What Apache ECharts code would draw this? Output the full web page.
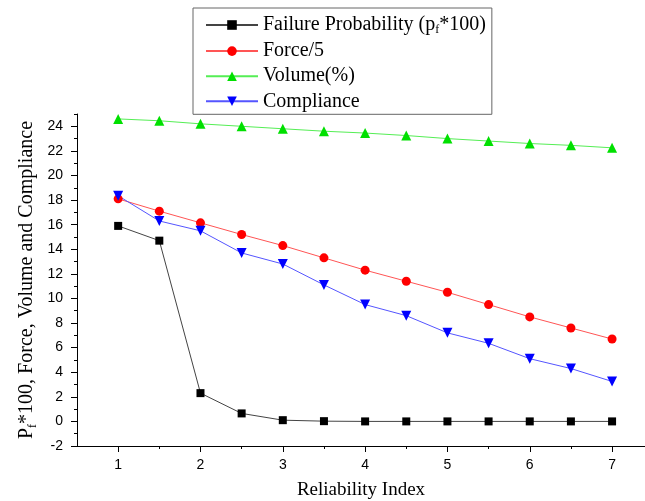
<!DOCTYPE html>
<html>
<head>
<meta charset="utf-8">
<script src="https://cdn.jsdelivr.net/npm/echarts@6/dist/echarts.min.js"></script>
<style>
  html, body { margin: 0; padding: 0; background: #fff; }
  #main { width: 645px; height: 501px; }
</style>
</head>
<body>
<div id="main"></div>
<script>
var chart = echarts.init(document.getElementById('main'));

// reliability index (x)
var reliability = [1, 1.5, 2, 2.5, 3, 3.5, 4, 4.5, 5, 5.5, 6, 6.5, 7];
// series
var failureProb = [15.9, 14.7, 2.3, 0.65, 0.1, 0.02, 0, 0, 0, 0, 0, 0, 0];
var force5 = [18.1, 17.1, 16.15, 15.2, 14.3, 13.3, 12.3, 11.4, 10.5, 9.5, 8.5, 7.6, 6.7];
var volume = [24.6, 24.45, 24.2, 24.0, 23.8, 23.6, 23.45, 23.25, 23.0, 22.8, 22.6, 22.45, 22.25];
var compliance = [18.35, 16.3, 15.5, 13.7, 12.8, 11.1, 9.5, 8.6, 7.2, 6.35, 5.1, 4.3, 3.25];

var xMajor = [1, 2, 3, 4, 5, 6, 7];
var xMinor = [1.5, 2.5, 3.5, 4.5, 5.5, 6.5];
var yMajor = [-2, 0, 2, 4, 6, 8, 10, 12, 14, 16, 18, 20, 22, 24];
var yMinor = [-1, 1, 3, 5, 7, 9, 11, 13, 15, 17, 19, 21, 23, 25];

function pairs(ys) {
  return reliability.map(function (x, i) { return [x, ys[i]]; });
}

var serif = '"Liberation Serif", "DejaVu Serif", serif';
var sans = '"Liberation Sans", Arial, sans-serif';
var invTri = 'path://M0,0 L10,0 L5,9 Z';

option = {
  backgroundColor: '#fff',
  animation: false,
  grid: { left: 77, right: 0, top: 114, bottom: 55, outerBoundsMode: 'none', containLabel: false },
  legend: {
    orient: 'vertical',
    left: 193,
    top: 8,
    padding: [6, 6, 3, 12],
    itemWidth: 52,
    itemHeight: 12,
    itemGap: 5.1,
    borderColor: '#666',
    borderWidth: 1,
    textStyle: {
      fontFamily: serif,
      fontSize: 20,
      color: '#000',
      lineHeight: 18,
      rich: {
        t: { fontFamily: serif, fontSize: 20, lineHeight: 18, color: '#000' },
        s: { fontFamily: serif, fontSize: 12, lineHeight: 8, color: '#000', padding: [10, 0, 0, 0] }
      }
    },
    formatter: function (name) {
      if (name.indexOf('Failure') === 0) {
        return '{t|Failure Probability (p}{s|f}{t|*100)}';
      }
      return '{t|' + name + '}';
    },
    data: ['Failure Probability', 'Force/5', 'Volume(%)', 'Compliance']
  },
  xAxis: [{
    type: 'value',
    min: 0.5,
    max: 7.4,
    interval: 0.5,
    name: 'Reliability Index',
    nameLocation: 'middle',
    nameGap: 35,
    nameTextStyle: { fontFamily: serif, fontSize: 19, color: '#000' },
    axisLine: { onZero: false, lineStyle: { color: '#000', width: 1 } },
    axisTick: { length: 6, customValues: xMajor, lineStyle: { color: '#000' } },
    axisLabel: { customValues: xMajor, margin: 12, fontFamily: sans, fontSize: 14, color: '#000' },
    splitLine: { show: false }
  }, {
    type: 'value',
    position: 'bottom',
    min: 0.5,
    max: 7.4,
    interval: 0.5,
    axisLine: { show: false, onZero: false },
    axisTick: { length: 3, customValues: xMinor, lineStyle: { color: '#000' } },
    axisLabel: { show: false },
    splitLine: { show: false }
  }],
  yAxis: [{
    type: 'value',
    min: -2,
    max: 25,
    interval: 1,
    name: '{t|P}{s|f}{t|*100, Force, Volume and Compliance}',
    nameLocation: 'middle',
    nameGap: 38,
    nameMoveOverlap: false,
    nameTextStyle: {
      rich: {
        t: { fontFamily: serif, fontSize: 20, color: '#000' },
        s: { fontFamily: serif, fontSize: 12, color: '#000', padding: [13, 0, 0, 0] }
      }
    },
    axisLine: { onZero: false, lineStyle: { color: '#000', width: 1 } },
    axisTick: { length: 6, customValues: yMajor, lineStyle: { color: '#000' } },
    axisLabel: { customValues: yMajor, margin: 14, fontFamily: sans, fontSize: 14, color: '#000' },
    splitLine: { show: false }
  }, {
    type: 'value',
    position: 'left',
    min: -2,
    max: 25,
    interval: 1,
    axisLine: { show: false, onZero: false },
    axisTick: { length: 3, customValues: yMinor, lineStyle: { color: '#000' } },
    axisLabel: { show: false },
    splitLine: { show: false }
  }],
  series: [{
    name: 'Failure Probability',
    type: 'line',
    data: pairs(failureProb),
    symbol: 'rect',
    symbolSize: 8,
    itemStyle: { color: '#000' },
    lineStyle: { color: '#444', width: 1 }
  }, {
    name: 'Force/5',
    type: 'line',
    data: pairs(force5),
    symbol: 'circle',
    symbolSize: 9,
    itemStyle: { color: '#ff0000' },
    lineStyle: { color: '#ff5555', width: 1 }
  }, {
    name: 'Volume(%)',
    type: 'line',
    data: pairs(volume),
    symbol: 'triangle',
    symbolSize: 10,
    itemStyle: { color: '#00e000' },
    lineStyle: { color: '#55ee55', width: 1 }
  }, {
    name: 'Compliance',
    type: 'line',
    data: pairs(compliance),
    symbol: invTri,
    symbolSize: 10,
    itemStyle: { color: '#0000ff' },
    lineStyle: { color: '#5555ff', width: 1 }
  }]
};
chart.setOption(option);
</script>
</body>
</html>
